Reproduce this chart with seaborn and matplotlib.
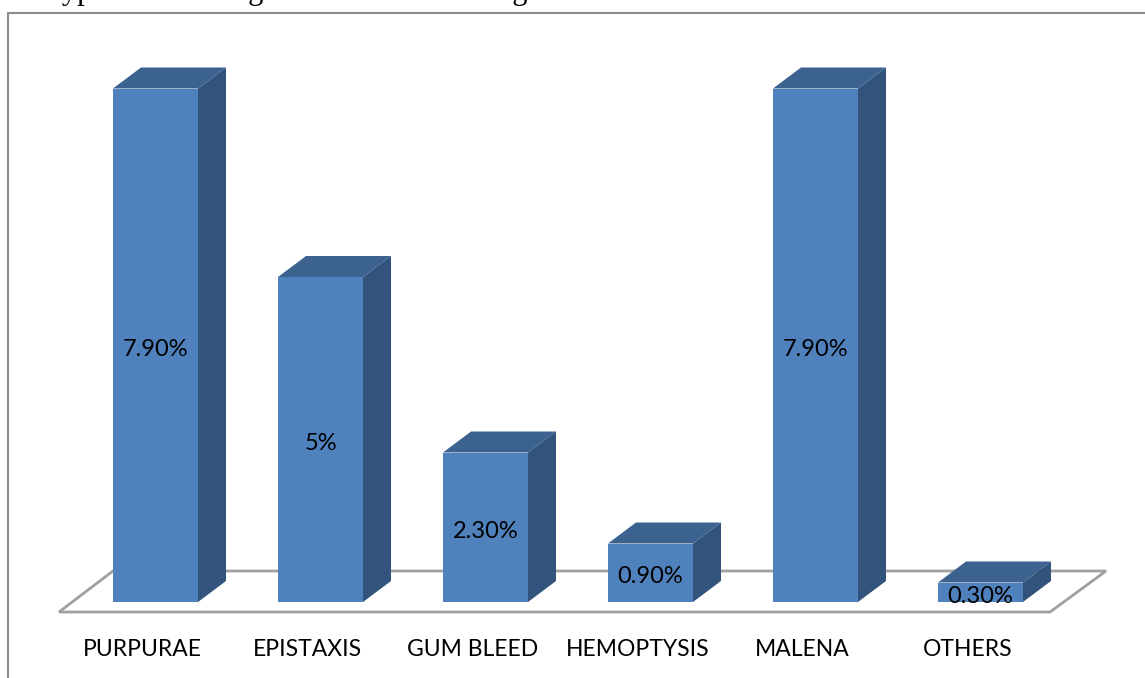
import numpy as np
import pandas as pd
import seaborn as sns
from matplotlib import pyplot as plt
from matplotlib.patches import Polygon

categories = ["PURPURAE", "EPISTAXIS", "GUM BLEED", "HEMOPTYSIS", "MALENA", "OTHERS"]
values = [7.9, 5.0, 2.3, 0.9, 7.9, 0.3]
value_labels = ["7.90%", "5%", "2.30%", "0.90%", "7.90%", "0.30%"]

W, H = 1145, 678
FRONT = "#4f81bd"
TOP = "#3c6290"
SIDE = "#32547c"
GRID = "#a0a0a0"

sns.set_theme(style="white")
plt.rcParams["font.family"] = ["Lato", "DejaVu Sans"]

df = pd.DataFrame({"type": categories, "pct": values})

fig = plt.figure(figsize=(W / 100, H / 100), dpi=100)
ax = fig.add_axes([0, 0, 1, 1])

# bars go 165 px apart, 65 px per percent, baseline at y=602
PX_X, PX_Y = 165, 65
sns.barplot(data=df, x="type", y="pct", color=FRONT, saturation=1, width=85 / PX_X, ax=ax, zorder=3,
            edgecolor=FRONT, linewidth=0)
ax.set_xlim(-155.5 / PX_X, (W - 155.5) / PX_X)
ax.set_ylim(-(H - 602) / PX_Y, 602 / PX_Y)
ax.axis("off")

dx, dy = 28 / PX_X, 21 / PX_Y
half = 85 / PX_X / 2

# floor of the 3d box
fl = 10 / PX_Y
floor = [(-96.5 / PX_X, -fl), (894.5 / PX_X, -fl), (950.5 / PX_X, 31 / PX_Y), (-42.5 / PX_X, 31 / PX_Y)]
ax.add_patch(Polygon(floor, closed=True, fill=False, edgecolor=GRID, linewidth=2, zorder=1))

# depth faces and labels
for i, v in enumerate(values):
    l, r = i - half, i + half
    ax.add_patch(Polygon([(l, v), (r, v), (r + dx, v + dy), (l + dx, v + dy)], color=TOP, lw=0, zorder=3))
    ax.add_patch(Polygon([(r, 0), (r + dx, dy), (r + dx, v + dy), (r, v)], color=SIDE, lw=0, zorder=3))
    ax.text(i, v / 2 - 4 / PX_Y, value_labels[i], ha="center", va="center", fontsize=17, color="black", zorder=4)
    ax.text(i - 0.08, -47 / PX_Y, categories[i], ha="center", va="center", fontsize=16.5, color="black", zorder=4)

# outer frame of the chart, cut by the crop
fig.add_artist(plt.Line2D([7.5 / W, 7.5 / W, 1], [0, 1 - 13 / H, 1 - 13 / H], color="#8c8c8c", lw=1.5))

# caption cut off at the top of the image, only descenders show
fig.text(23 / W, 1 + 1 / H, "n Types of bleeding manifestation among the cases", family=["Liberation Serif"],
         fontsize=22, color="black", va="baseline", ha="left")

fig.savefig("out.png", dpi=100, facecolor="white")
